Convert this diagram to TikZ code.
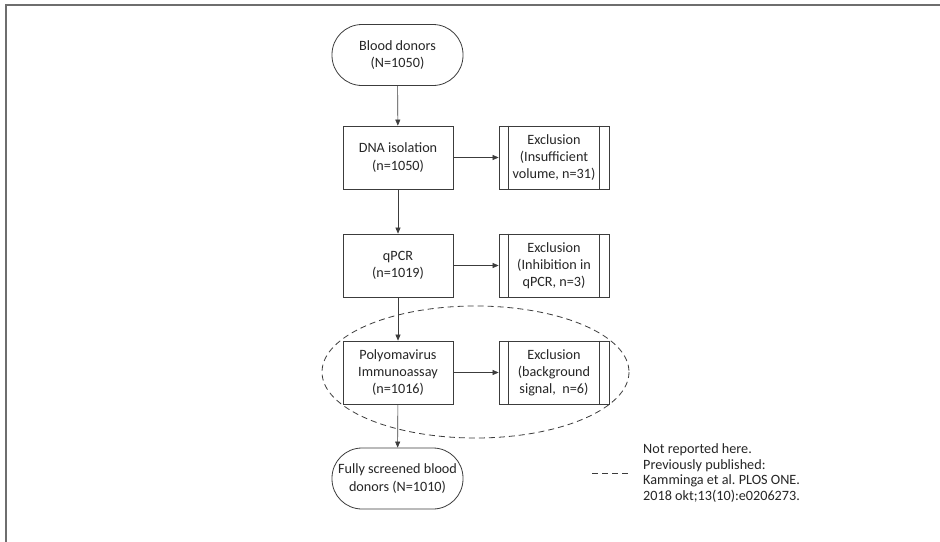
\documentclass[tikz,border=0pt]{standalone}
\usepackage{fontspec}
\setmainfont{Carlito}
\usetikzlibrary{arrows.meta}
\frenchspacing
\definecolor{framegray}{RGB}{110,110,110}
\definecolor{linegray}{RGB}{60,60,60}
\tikzset{
  txt/.style={font=\fontsize{14.2}{17.2}\selectfont, align=center, text=black!85},
  legtxt/.style={font=\fontsize{14.2}{15.4}\selectfont, align=left, text=black!85},
  procbox/.style={txt, draw=linegray, line width=0.8pt, minimum width=110pt, minimum height=63pt, inner sep=0pt},
  exclbox/.style={procbox},
  termbox/.style={txt, draw=linegray, line width=0.8pt, rounded corners=30pt, minimum width=131pt, minimum height=61pt, inner sep=0pt},
  flow/.style={draw=linegray, line width=0.6pt, -{Triangle[length=6pt,width=5pt]}},
  ovaldash/.style={draw=linegray, line width=0.8pt, dash pattern=on 6pt off 4pt},
}
\newcommand{\exclines}[1]{%
  \draw[draw=linegray, line width=0.8pt] ([xshift=10pt]#1.north west) -- ([xshift=10pt]#1.south west);
  \draw[draw=linegray, line width=0.8pt] ([xshift=-10pt]#1.north east) -- ([xshift=-10pt]#1.south east);}
\begin{document}
\begin{tikzpicture}[x=1pt,y=-1pt]
\useasboundingbox (0,0) rectangle (940,541);
\fill[white] (0,0) rectangle (940,541);
% frame
\draw[framegray, line width=1.5pt] (6,545) -- (6,5) -- (945,5);
% nodes
\node[termbox] (donors) at (397.5,55) {Blood donors\\(N=1050)};
\node[procbox] (dna) at (398,157.5) {DNA isolation\\(n=1050)};
\node[exclbox] (ex1) at (554,157.5) {Exclusion\\(Insufficient\\volume, n=31)};
\node[procbox] (qpcr) at (398,265.5) {qPCR\\(n=1019)};
\node[exclbox] (ex2) at (554,265.5) {Exclusion\\(Inhibition in\\qPCR, n=3)};
\node[procbox] (poly) at (398,372.5) {Polyomavirus\\Immunoassay\\(n=1016)};
\node[exclbox] (ex3) at (554,372.5) {Exclusion\\(background\\signal,\ \ n=6)};
\node[termbox] (full) at (397.5,478.5) {Fully screened blood\\donors (N=1010)};
\exclines{ex1}
\exclines{ex2}
\exclines{ex3}
% connectors
\draw[flow] (donors) -- (dna);
\draw[flow] (dna) -- (qpcr);
\draw[flow] (qpcr) -- (poly);
\draw[flow] (poly) -- (full);
\draw[flow] (dna) -- (ex1);
\draw[flow] (qpcr) -- (ex2);
\draw[flow] (poly) -- (ex3);
% dashed ellipse
\draw[ovaldash] (475.5,372) ellipse [x radius=153.5, y radius=66];
% legend
\coordinate (legA) at (592,473);
\coordinate (legB) at (631,473);
\draw[ovaldash] (legA) -- (legB);
\node[legtxt, anchor=west, inner sep=0pt] (legtext) at (643,473) {Not reported here.\\Previously published:\\Kamminga et al. PLOS ONE.\\2018 okt;13(10):e0206273.};
\end{tikzpicture}
\end{document}
